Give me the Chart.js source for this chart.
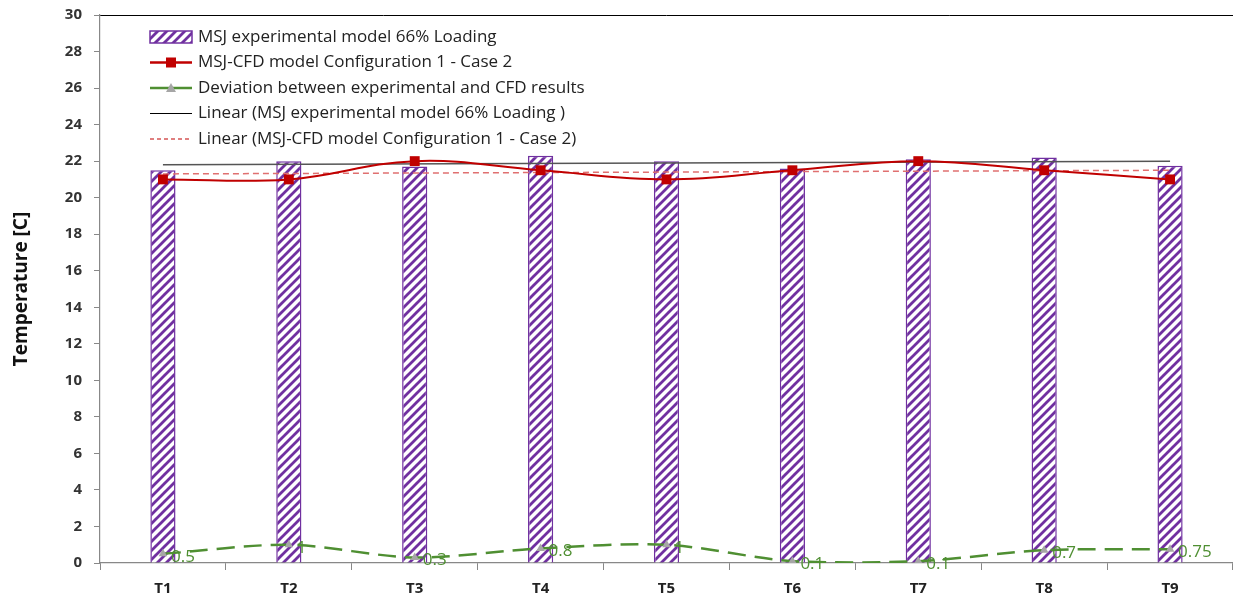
<!DOCTYPE html>
<html>
<head>
<meta charset="utf-8">
<script src="https://cdn.jsdelivr.net/npm/chart.js@4/dist/chart.umd.min.js"></script>
<style>
  body { margin: 0; background: #fff; }
  #wrap { width: 1233px; height: 602px; }
</style>
</head>
<body>
<div id="wrap"><canvas id="canvas" width="1233" height="602"></canvas></div>
<script>
var categories = ["T1", "T2", "T3", "T4", "T5", "T6", "T7", "T8", "T9"];
var experimental = [21.5, 22, 21.7, 22.3, 22, 21.6, 22.1, 22.2, 21.75];
var cfdModel = [21, 21, 22, 21.5, 21, 21.5, 22, 21.5, 21];
var deviation = [0.5, 1, 0.3, 0.8, 1, 0.1, 0.1, 0.7, 0.75];
// trend lines (end points only)
var trendExperimental = [21.8, null, null, null, null, null, null, null, 22.0];
var trendCfd = [21.3, null, null, null, null, null, null, null, 21.5];
var yTicks = [0, 30, 2];

var purple = '#7030A0';
var red = '#C00000';
var green = '#4F8F32';
var legendFont = '17px "Open Sans", sans-serif';

function makeStripes() {
    var c = document.createElement('canvas');
    c.width = 9;
    c.height = 9;
    var g = c.getContext('2d');
    g.fillStyle = '#fff';
    g.fillRect(0, 0, 9, 9);
    g.strokeStyle = purple;
    g.lineWidth = 2.8;
    g.beginPath();
    g.moveTo(-2, 11); g.lineTo(11, -2);
    g.moveTo(-7, 7); g.lineTo(7, -7);
    g.moveTo(2, 16); g.lineTo(16, 2);
    g.stroke();
    return g.createPattern(c, 'repeat');
}
var stripes = makeStripes();

var legendItems = [
    { text: 'MSJ experimental model 66% Loading', kind: 'bar' },
    { text: 'MSJ-CFD model Configuration 1 - Case 2', kind: 'redline' },
    { text: 'Deviation between experimental and CFD results', kind: 'greenline' },
    { text: 'Linear (MSJ experimental model 66% Loading )', kind: 'black' },
    { text: 'Linear (MSJ-CFD model Configuration 1 - Case 2)', kind: 'reddash' }
];

var legendPlugin = {
    id: 'boxLegend',
    afterDraw: function (chart) {
        var ctx = chart.ctx;
        var x0 = 150, y0 = 37, step = 25.5, w = 42;
        ctx.save();
        legendItems.forEach(function (item, i) {
            var y = y0 + i * step;
            if (item.kind === 'bar') {
                ctx.fillStyle = stripes;
                ctx.fillRect(x0, y - 6, w, 12);
                ctx.strokeStyle = purple;
                ctx.lineWidth = 1.5;
                ctx.strokeRect(x0, y - 6, w, 12);
            } else {
                ctx.beginPath();
                ctx.moveTo(x0, y);
                ctx.lineTo(x0 + w, y);
                ctx.setLineDash(item.kind === 'reddash' ? [4, 3] : []);
                ctx.strokeStyle = item.kind === 'redline' || item.kind === 'reddash' ? red : (item.kind === 'greenline' ? green : '#000');
                ctx.lineWidth = item.kind === 'redline' || item.kind === 'greenline' ? 2.5 : 1.2;
                ctx.stroke();
                ctx.setLineDash([]);
                if (item.kind === 'redline') {
                    ctx.fillStyle = red;
                    ctx.fillRect(x0 + w / 2 - 5, y - 5, 10, 10);
                }
                if (item.kind === 'greenline') {
                    ctx.fillStyle = '#A6A6A6';
                    ctx.beginPath();
                    ctx.moveTo(x0 + w / 2, y - 5);
                    ctx.lineTo(x0 + w / 2 + 5, y + 4);
                    ctx.lineTo(x0 + w / 2 - 5, y + 4);
                    ctx.closePath();
                    ctx.fill();
                }
            }
            ctx.fillStyle = '#222';
            ctx.font = legendFont;
            ctx.textBaseline = 'middle';
            ctx.textAlign = 'left';
            ctx.fillText(item.text, x0 + w + 6, y);
        });
        ctx.restore();
    }
};

var labelPlugin = {
    id: 'deviationLabels',
    afterDatasetsDraw: function (chart) {
        var ctx = chart.ctx;
        var meta = chart.getDatasetMeta(2);
        ctx.save();
        ctx.fillStyle = green;
        ctx.font = '17px "Open Sans", sans-serif';
        ctx.textBaseline = 'middle';
        ctx.textAlign = 'left';
        meta.data.forEach(function (pt, i) {
            ctx.fillText(String(deviation[i]), pt.x + 8, pt.y + 3);
        });
        ctx.restore();
    }
};

var myChart = new Chart(document.getElementById('canvas').getContext('2d'), {
    data: {
        labels: categories,
        datasets: [
            {
                type: 'bar',
                label: 'MSJ experimental model 66% Loading',
                data: experimental,
                backgroundColor: stripes,
                borderColor: purple,
                borderWidth: 1.5,
                barPercentage: 0.2,
                categoryPercentage: 1,
                order: 5
            },
            {
                type: 'line',
                label: 'MSJ-CFD model Configuration 1 - Case 2',
                data: cfdModel,
                borderColor: red,
                backgroundColor: red,
                borderWidth: 2,
                tension: 0.4,
                pointStyle: 'rect',
                pointRadius: 7,
                pointBorderWidth: 0,
                order: 1
            },
            {
                type: 'line',
                label: 'Deviation between experimental and CFD results',
                data: deviation,
                borderColor: green,
                borderWidth: 2.5,
                borderDash: [18, 9],
                tension: 0.3,
                pointStyle: 'triangle',
                pointRadius: 5,
                pointBackgroundColor: '#A6A6A6',
                pointBorderColor: '#A6A6A6',
                pointBorderWidth: 0,
                order: 2
            },
            {
                type: 'line',
                label: 'Linear (MSJ experimental model 66% Loading )',
                data: trendExperimental,
                borderColor: '#555',
                borderWidth: 1.5,
                spanGaps: true,
                pointRadius: 0,
                order: 4
            },
            {
                type: 'line',
                label: 'Linear (MSJ-CFD model Configuration 1 - Case 2)',
                data: trendCfd,
                borderColor: '#E07070',
                borderWidth: 1.5,
                borderDash: [6, 4],
                spanGaps: true,
                pointRadius: 0,
                order: 3
            }
        ]
    },
    options: {
        responsive: false,
        devicePixelRatio: 1,
        animation: false,
        layout: { autoPadding: false, padding: { top: 15, right: 0, left: 0, bottom: 0 } },
        plugins: {
            legend: { display: false },
            tooltip: { enabled: false }
        },
        scales: {
            x: {
                offset: true,
                grid: {
                    offset: true,
                    drawOnChartArea: false,
                    tickLength: 7,
                    tickColor: '#888'
                },
                border: { color: '#888', width: 1.2 },
                ticks: {
                    color: '#222',
                    font: { family: '"Open Sans", sans-serif', size: 15, weight: 'bold' },
                    padding: 10
                },
                afterFit: function (scale) {
                    scale.height = 39;
                    scale.paddingLeft = 0;
                    scale.paddingRight = 0;
                }
            },
            y: {
                min: yTicks[0],
                max: yTicks[1],
                ticks: {
                    stepSize: yTicks[2],
                    color: '#333',
                    font: { family: '"Open Sans", sans-serif', size: 15, weight: 'bold' },
                    padding: 12
                },
                grid: {
                    color: function (c) { return c.tick && c.tick.value === 30 ? '#000' : 'rgba(0,0,0,0)'; },
                    tickColor: '#888',
                    tickLength: 6
                },
                border: { color: '#888', width: 1.2 },
                title: {
                    display: true,
                    text: 'Temperature [C]',
                    color: '#111',
                    font: { family: '"Open Sans", sans-serif', size: 19, weight: 'bold' },
                    padding: { top: 10, bottom: 0 }
                },
                afterFit: function (scale) {
                    scale.width = 100;
                    scale.paddingTop = 0;
                    scale.paddingBottom = 0;
                }
            }
        }
    },
    plugins: [legendPlugin, labelPlugin]
});
</script>
</body>
</html>
